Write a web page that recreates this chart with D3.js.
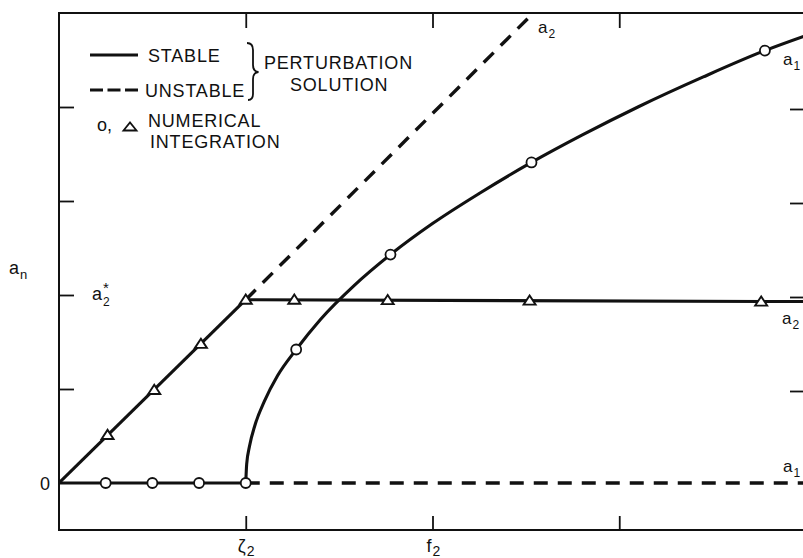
<!DOCTYPE html>
<html>
<head>
<meta charset="utf-8">
<script src="https://cdn.jsdelivr.net/npm/d3@7"></script>
<style>
  body { margin: 0; background: #fff; }
  svg { display: block; }
  text { font-family: "Liberation Sans", Arial, Helvetica, sans-serif; fill: #111; }
</style>
</head>
<body>
<svg id="chart" width="803" height="558"></svg>
<script>
// ---- data -------------------------------------------------------------
// Forcing frequency f (ticks in units of ζ2) against modal amplitudes a_n.
const xTickValues = [1, 2, 3];
const xTickNames = { 1: ["ζ", "2"], 2: ["f", "2"] };
const yTickValues = [1, 2, 3, 4];
const a2StarLevel = 2;

// Perturbation solution, mode 2
const a2RiseF = [0, 1];
const a2RiseA = [0, 1.95];
const a2RiseUnstableF = [1, 2.54];
const a2RiseUnstableA = [1.95, 5];
const a2SatF = [1, 4];
const a2SatA = [1.95, 1.93];

// Perturbation solution, mode 1
const a1ZeroF = [0, 1];
const a1ZeroA = [0, 0];
const a1ZeroUnstableF = [1, 4];
const a1ZeroUnstableA = [0, 0];
const a1BranchF = [1.0, 1.005, 1.02, 1.05, 1.1, 1.17, 1.27, 1.4, 1.58, 1.775, 2.0, 2.25, 2.53, 2.8, 3.1, 3.45, 3.78, 4.0];
const a1BranchA = [0, 0.2, 0.39, 0.62, 0.87, 1.14, 1.42, 1.74, 2.1, 2.43, 2.76, 3.08, 3.41, 3.7, 4.0, 4.32, 4.6, 4.76];

// Numerical integration
const circleF = [0.25, 0.5, 0.75, 1.0, 1.27, 1.775, 2.53, 3.78];
const circleA = [0, 0, 0, 0, 1.42, 2.43, 3.41, 4.6];
const triangleF = [0.26, 0.51, 0.76, 1.0, 1.26, 1.76, 2.52, 3.76];
const triangleA = [0.51, 0.99, 1.48, 1.95, 1.95, 1.945, 1.94, 1.93];

// ---- layout -----------------------------------------------------------
const svg = d3.select("#chart");
const ink = "#111";
const x = d3.scaleLinear().domain([0, 4]).range([59, 806]);
const y = d3.scaleLinear().domain([-0.5, 5]).range([530, 13]);
const zip = (fs, as) => fs.map((f, i) => [f, as[i]]);

svg.append("defs").append("clipPath").attr("id", "plot")
  .append("rect")
  .attr("x", x(0)).attr("y", y(5))
  .attr("width", x(4) - x(0)).attr("height", y(-0.5) - y(5));

// frame
svg.append("rect")
  .attr("x", x(0)).attr("y", y(5))
  .attr("width", x(4) - x(0)).attr("height", y(-0.5) - y(5))
  .attr("fill", "none").attr("stroke", ink).attr("stroke-width", 2);

// inward ticks on all four sides
function ticks(axis, tx, ty) {
  const g = svg.append("g").attr("transform", `translate(${tx},${ty})`).call(axis);
  g.select(".domain").remove();
  g.selectAll(".tick line").attr("stroke", ink).attr("stroke-width", 1.8);
  g.selectAll(".tick text").remove();
  return g;
}
ticks(d3.axisLeft(y).tickValues(yTickValues).tickSizeInner(-15).tickSizeOuter(0), x(0), 0);
ticks(d3.axisRight(y).tickValues(yTickValues).tickSizeInner(-16).tickSizeOuter(0), x(4), 2);
ticks(d3.axisTop(x).tickValues(xTickValues).tickSizeInner(-15).tickSizeOuter(0), 0, y(5));
ticks(d3.axisBottom(x).tickValues(xTickValues).tickSizeInner(-14).tickSizeOuter(0), 0, y(-0.5));

// ---- curves -----------------------------------------------------------
const plot = svg.append("g").attr("clip-path", "url(#plot)");
const line = d3.line().x(d => x(d[0])).y(d => y(d[1]));
const smooth = d3.line().x(d => x(d[0])).y(d => y(d[1])).curve(d3.curveMonotoneX);

function draw(gen, pts, dashed) {
  plot.append("path")
    .attr("d", gen(pts))
    .attr("fill", "none")
    .attr("stroke", ink)
    .attr("stroke-width", dashed ? 3.4 : 3.1)
    .attr("stroke-dasharray", dashed ? "14,10" : null)
    .attr("stroke-linecap", "butt");
}
draw(line, zip(a1ZeroUnstableF, a1ZeroUnstableA), true);
draw(line, zip(a2RiseUnstableF, a2RiseUnstableA), true);
draw(line, zip(a1ZeroF, a1ZeroA), false);
draw(line, zip(a2RiseF, a2RiseA), false);
draw(line, zip(a2SatF, a2SatA), false);
draw(smooth, zip(a1BranchF, a1BranchA), false);

// numerical integration markers
plot.selectAll("circle.num")
  .data(zip(circleF, circleA))
  .join("circle")
  .attr("class", "num")
  .attr("cx", d => x(d[0])).attr("cy", d => y(d[1]))
  .attr("r", 5)
  .attr("fill", "#fff").attr("stroke", ink).attr("stroke-width", 1.8);

const tri = (cx, cy) => `M${cx - 6},${cy + 4}L${cx},${cy - 5.2}L${cx + 6},${cy + 4}Z`;
plot.selectAll("path.num")
  .data(zip(triangleF, triangleA))
  .join("path")
  .attr("class", "num")
  .attr("d", d => tri(x(d[0]), y(d[1])))
  .attr("fill", "#fff").attr("stroke", ink).attr("stroke-width", 1.9)
  .attr("stroke-linejoin", "miter");

// ---- labels -----------------------------------------------------------
function subLabel(px, py, main, sub, opts = {}) {
  const size = opts.size || 17;
  const t = svg.append("text").attr("x", px).attr("y", py)
    .attr("font-size", size).attr("font-style", opts.italic ? "italic" : null);
  t.append("tspan").text(main);
  t.append("tspan").attr("font-size", opts.subSize || 12).attr("font-style", "normal")
    .attr("dx", opts.subDx || 1).attr("dy", opts.subDy || 5).text(sub);
  return t;
}

// x tick names
xTickValues.forEach(v => {
  const n = xTickNames[v];
  if (!n) return;
  subLabel(x(v) - (v === 1 ? 8 : 6), 552, n[0], n[1], { size: 18, subSize: 14, subDy: 4 });
});

// y labels
svg.append("text").attr("x", x(0) - 9).attr("y", y(0) + 7)
  .attr("text-anchor", "end").attr("font-size", 18).text("0");
subLabel(9, 274, "a", "n", { size: 18, subSize: 13, subDy: 5 });
subLabel(92, y(a2StarLevel) + 5, "a", "2", { size: 18, subSize: 12, subDy: 6 });
svg.append("text").attr("x", 103).attr("y", y(a2StarLevel) - 2)
  .attr("font-size", 15).text("*");

// curve names
subLabel(538, 33, "a", "2", { size: 17, subSize: 12, subDy: 5 });
subLabel(783, 65, "a", "1", { size: 17, subSize: 12, subDy: 5 });
subLabel(782, 324, "a", "2", { size: 17, subSize: 12, subDy: 5 });
subLabel(783, 472, "a", "1", { size: 17, subSize: 12, subDy: 5 });

// ---- legend -----------------------------------------------------------
const lg = svg.append("g").attr("transform", "translate(90,0)");
const legendText = (px, py, s) => lg.append("text")
  .attr("x", px).attr("y", py).attr("font-size", 18)
  .attr("letter-spacing", 0.8).text(s);

lg.append("line").attr("x1", 0).attr("x2", 48).attr("y1", 55).attr("y2", 55)
  .attr("stroke", ink).attr("stroke-width", 3);
legendText(58, 62, "STABLE");
lg.append("line").attr("x1", 0).attr("x2", 48).attr("y1", 90).attr("y2", 90)
  .attr("stroke", ink).attr("stroke-width", 3.2).attr("stroke-dasharray", "13,4.5");
legendText(55, 97, "UNSTABLE");

// brace grouping both line styles
lg.append("path")
  .attr("d", "M157,43 Q163,43 163,50 L163,65 Q163,71.5 168.5,72 Q163,72.5 163,79 L163,94 Q163,100 158,100")
  .attr("fill", "none").attr("stroke", ink).attr("stroke-width", 1.8);
legendText(174, 69, "PERTURBATION");
legendText(200, 91, "SOLUTION");

lg.append("text").attr("x", 7).attr("y", 131).attr("font-size", 18).text("o,");
lg.append("path").attr("d", "M33.5,130.5L40,122.5L46.5,130.5Z")
  .attr("fill", "none").attr("stroke", ink).attr("stroke-width", 1.8);
legendText(58, 127, "NUMERICAL");
legendText(60, 148, "INTEGRATION");
</script>
</body>
</html>
